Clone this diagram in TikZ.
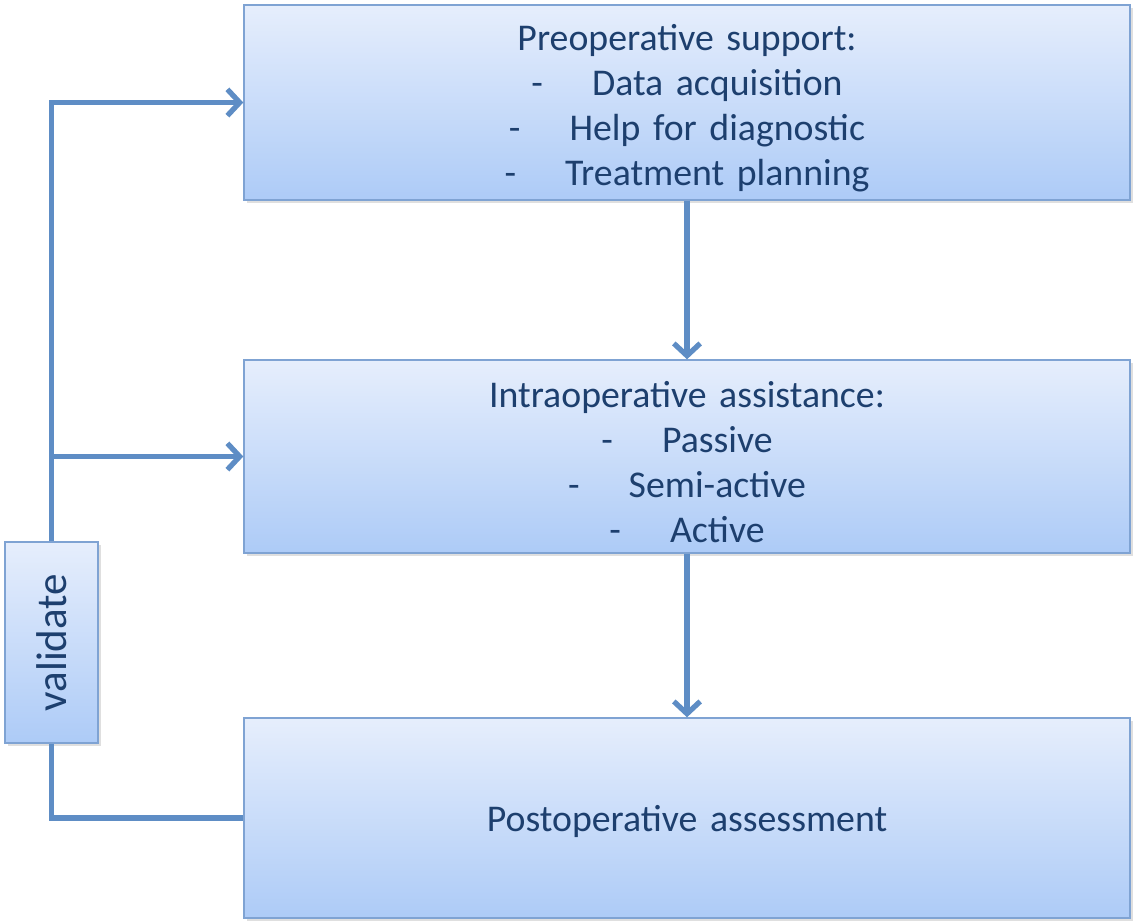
\documentclass[tikz,border=0pt]{standalone}
\usepackage{fontspec}
\setmainfont{Carlito}
\usetikzlibrary{arrows.meta,shadows}

\definecolor{boxline}{HTML}{7FA3D3}
\definecolor{boxtop}{HTML}{E6EEFC}
\definecolor{boxbottom}{HTML}{ADCBF7}
\definecolor{flowline}{HTML}{5E8DC5}
\definecolor{textblue}{HTML}{1D3F6E}

\newcommand{\bulletline}[1]{-\hspace{1.3em}#1}
\newcommand{\lowertext}{\endgraf\vspace{-0.24cm}}

\begin{document}
\begin{tikzpicture}[auto,
    stage/.style ={rectangle, draw=boxline, line width=0.8pt,
      top color=boxtop, bottom color=boxbottom,
      minimum width=17.72cm, text width=17cm, align=center,
      text=textblue, font=\fontsize{21.5}{25.6}\selectfont,
      execute at end node=\lowertext,
      drop shadow={opacity=0.25, shadow xshift=0.06cm, shadow yshift=-0.06cm}},
    checkbox/.style ={rectangle, draw=boxline, line width=0.8pt,
      top color=boxtop, bottom color=boxbottom, rotate=90,
      minimum width=4.02cm, minimum height=1.86cm,
      text=textblue, font=\fontsize{24.5}{28}\selectfont,
      drop shadow={opacity=0.25, shadow xshift=0.06cm, shadow yshift=-0.06cm}},
    flow/.style ={draw=flowline, line width=3pt}]
   \useasboundingbox (0,0) rectangle (22.66,-18.46);

   \node[stage, minimum height=3.9cm] (pre) at (13.74,-2.05)
     {Preoperative support:\\ \bulletline{Data acquisition}\\ \bulletline{Help for diagnostic}\\ \bulletline{Treatment planning}};
   \node[stage, minimum height=3.86cm] (intra) at (13.74,-9.13)
     {Intraoperative assistance:\\ \bulletline{Passive}\\ \bulletline{Semi-active}\\ \bulletline{Active}};
   \node[stage, minimum height=4cm] (post) at (13.74,-16.36) {Postoperative assessment};
   \node[checkbox] (val) at (1.03,-12.85) {validate};

   \draw[flow, -{Straight Barb[length=7pt,width=15pt]}] (pre) to (intra);
   \draw[flow, -{Straight Barb[length=7pt,width=15pt]}] (intra) to (post);
   \draw[flow, -{Straight Barb[length=7pt,width=15pt]}] (val) |- (pre);
   \draw[flow, -{Straight Barb[length=7pt,width=15pt]}] (val) |- (intra);
   \draw[flow] (val) |- (post);
 \end{tikzpicture}
\end{document}
